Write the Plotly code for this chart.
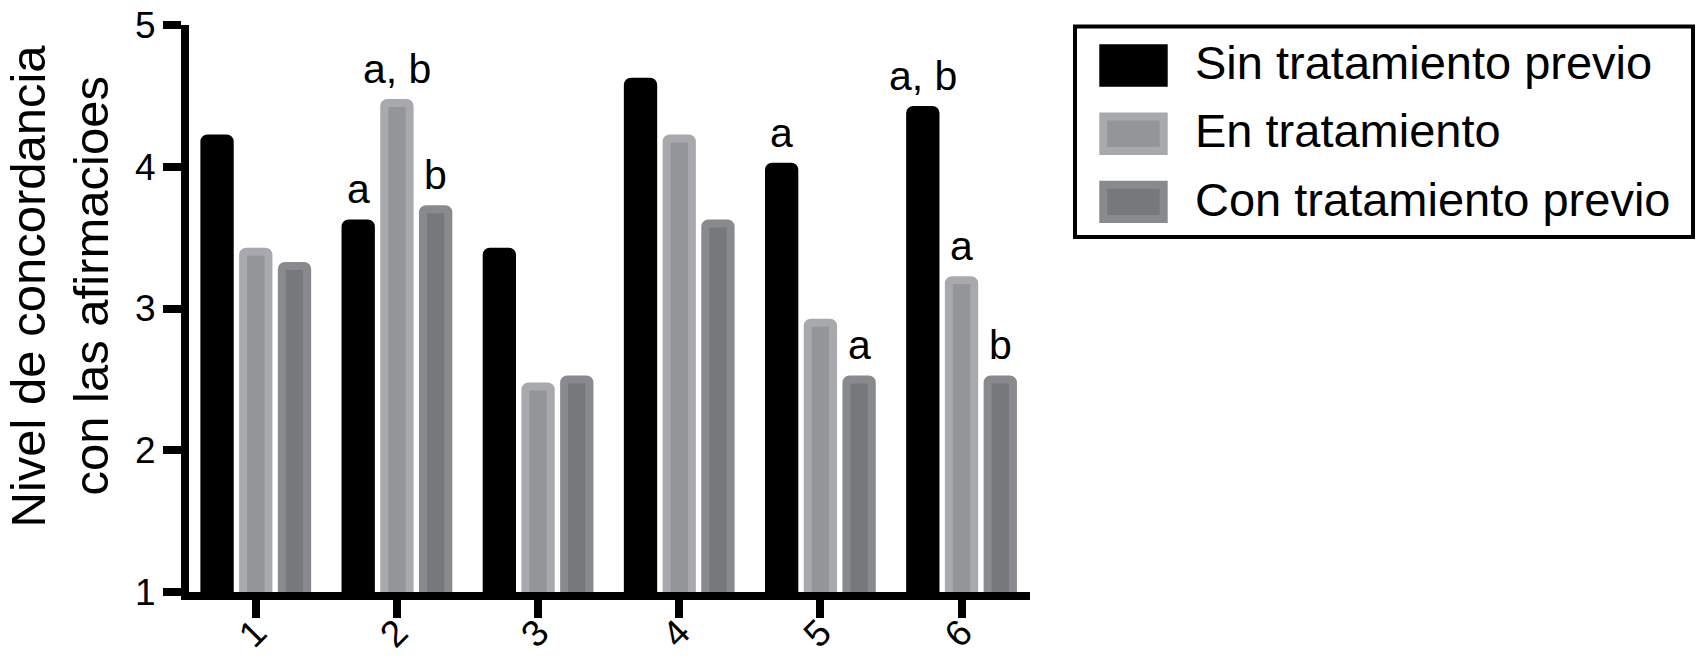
import plotly.graph_objects as go

# datos
categorias = ["1", "2", "3", "4", "5", "6"]
series = ["Sin tratamiento previo", "En tratamiento", "Con tratamiento previo"]
sin_tratamiento = [4.2, 3.6, 3.4, 4.6, 4.0, 4.4]
en_tratamiento = [3.4, 4.45, 2.45, 4.2, 2.9, 3.2]
con_tratamiento = [3.3, 3.7, 2.5, 3.6, 2.5, 2.5]
letras_sin = ["", "a", "", "", "a", "a, b"]
letras_en = ["", "a, b", "", "", "", "a"]
letras_con = ["", "b", "", "", "a", "b"]

valores = [sin_tratamiento, en_tratamiento, con_tratamiento]
letras = [letras_sin, letras_en, letras_con]
rellenos = ["#000000", "#939598", "#77787b"]
bordes = ["#000000", "#a7a9ac", "#898a8d"]

FUENTE = "Liberation Sans, Arial, Helvetica, sans-serif"
W, H = 1697, 663
L, R, T, B = 189, 1030, 25, 592  # area del grafico en pixeles
RANGO_X = [-0.473, 5.485]
BARGAP = 0.177


def px_x(x):
    return (x - L) / (R - L)


def px_y(y):
    return (B - y) / (B - T)


fig = go.Figure()
for nombre, vals, relleno, borde in zip(series, valores, rellenos, bordes):
    fig.add_trace(go.Bar(
        x=categorias, y=vals, name=nombre,
        marker=dict(color=relleno, line=dict(color=borde, width=8)),
        showlegend=False, hoverinfo="skip",
    ))

# letras de significancia sobre cada barra (x = indice de categoria)
ancho_cat = (R - L) / (RANGO_X[1] - RANGO_X[0])
ranura = ancho_cat * (1 - BARGAP) / 3
for i, (vals, txt) in enumerate(zip(valores, letras)):
    for j, (v, t) in enumerate(zip(vals, txt)):
        if not t:
            continue
        fig.add_annotation(
            x=j, y=v, text=t, showarrow=False,
            xanchor="center", yanchor="bottom",
            xshift=(i - 1) * ranura, yshift=9,
            font=dict(size=41, family=FUENTE, color="black"),
        )

fig.update_layout(
    width=W, height=H,
    margin=dict(l=L, r=W - R, t=T, b=H - B, pad=0, autoexpand=False),
    paper_bgcolor="white", plot_bgcolor="white",
    barmode="group", bargap=BARGAP, bargroupgap=0.346,
    barcornerradius=3,
    font=dict(family=FUENTE, color="black"),
)
fig.update_xaxes(
    type="category", range=RANGO_X, automargin=False,
    showline=True, linecolor="black", linewidth=8,
    ticks="outside", ticklen=18, tickwidth=8, tickcolor="black",
    tickangle=-45, tickfont=dict(size=37, family=FUENTE),
    ticklabelstandoff=-22,
    showgrid=False, zeroline=False,
)
fig.update_yaxes(
    range=[1, 5], tickvals=[1, 2, 3, 4, 5], automargin=False,
    showline=True, linecolor="black", linewidth=8,
    ticks="outside", ticklen=18, tickwidth=8, tickcolor="black",
    tickfont=dict(size=37, family=FUENTE),
    showgrid=False, zeroline=False,
)

# titulo del eje y en dos lineas
for texto, xc in [("Nivel de concordancia", 27), ("con las afirmacioes", 90)]:
    fig.add_annotation(
        text=texto, xref="paper", yref="paper",
        x=px_x(xc), y=px_y(286.5), xanchor="center", yanchor="middle",
        textangle=-90, showarrow=False,
        font=dict(size=49, family=FUENTE, color="black"),
    )

# leyenda dibujada a mano
fig.add_shape(type="rect", xref="paper", yref="paper",
              x0=px_x(1075), x1=px_x(1693), y0=px_y(237), y1=px_y(26.5),
              line=dict(color="black", width=4), fillcolor="white")
for i, (nombre, relleno, borde) in enumerate(zip(series, rellenos, bordes)):
    top = 44.3 + 68.2 * i
    fig.add_shape(type="rect", xref="paper", yref="paper",
                  x0=px_x(1103.3), x1=px_x(1163.7),
                  y0=px_y(top + 38.4), y1=px_y(top + 4),
                  line=dict(color=borde, width=8), fillcolor=relleno)
    fig.add_annotation(
        text=nombre, xref="paper", yref="paper",
        x=px_x(1193), y=px_y(62.7 + 68.2 * i), xanchor="left", yanchor="middle",
        showarrow=False, font=dict(size=47, family=FUENTE, color="black"),
    )

# sin margen del body para que la figura ocupe la ventana exacta
fig.write_html("out.html", config={"displayModeBar": False},
               post_script="document.body.style.margin='0';")
